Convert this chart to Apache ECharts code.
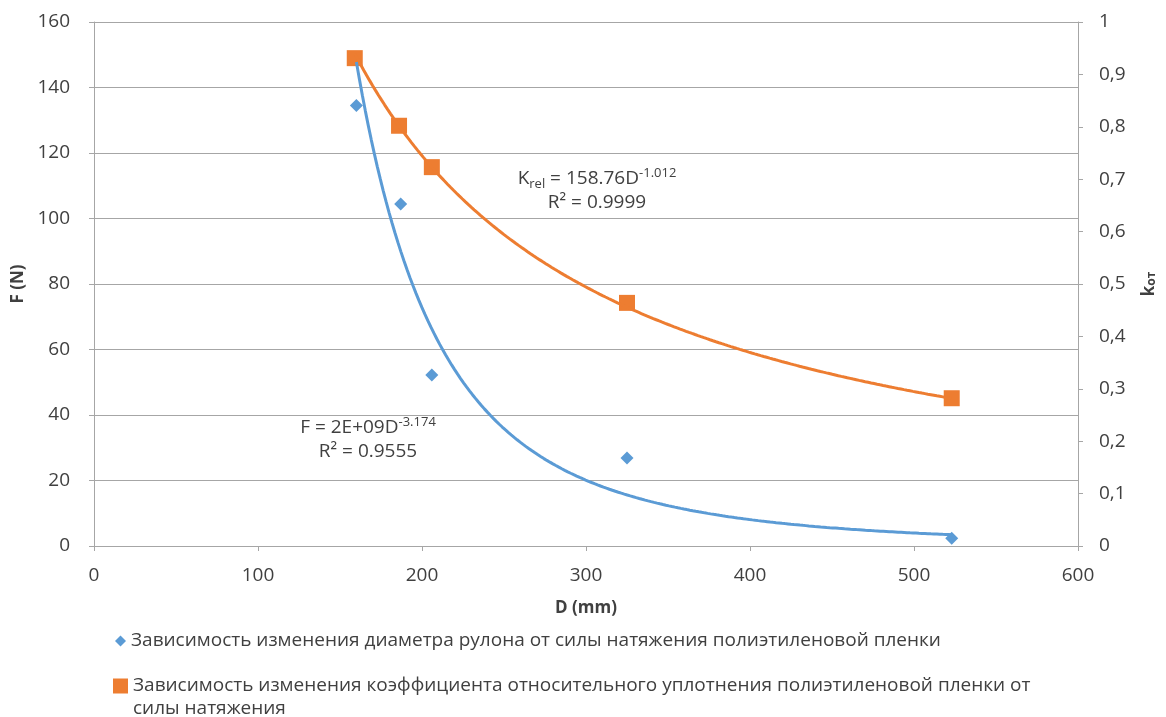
<!DOCTYPE html>
<html>
<head>
<meta charset="utf-8">
<script src="https://cdn.jsdelivr.net/npm/echarts@6/dist/echarts.min.js"></script>
<style>
  html, body { margin: 0; padding: 0; background: #ffffff; }
  #chart { width: 1166px; height: 717px; }
</style>
</head>
<body>
<div id="chart"></div>
<script>
// Roll diameter D (mm) measured at each tension setting
var diameterF = [160, 187, 206, 325, 523];
// Tension force F (N), left axis
var forceF = [134.5, 104.4, 52.2, 26.9, 2.4];

var diameterK = [159, 186, 206, 325, 523];
// Relative compaction coefficient k_ot, right axis
var kRel = [0.931, 0.802, 0.723, 0.464, 0.282];

// Power-law trendline parameters as printed in the equations
var forceExponent = -3.174;
var kCoef = 158.76;
var kExponent = -1.012;

var leftTicks = [0, 20, 40, 60, 80, 100, 120, 140, 160];
var rightTicks = [0, 0.1, 0.2, 0.3, 0.4, 0.5, 0.6, 0.7, 0.8, 0.9, 1];
var xTicks = [0, 100, 200, 300, 400, 500, 600];

var nameF = 'Зависимость изменения диаметра рулона от силы натяжения полиэтиленовой пленки';
var nameK = 'Зависимость изменения коэффициента относительного уплотнения полиэтиленовой пленки от силы натяжения';
var nameKWrap = 'силы натяжения';

var BLUE = '#5b9bd5';
var ORANGE = '#ed7d31';
var TEXT = '#404040';
var GRID = '#a6a6a6';
var FONT = 'Open Sans';
var FS = 19;

// Coefficient of the force trendline: least squares in log space with the printed exponent
function fitCoefficient(xs, ys, b) {
  var s = 0;
  for (var i = 0; i < xs.length; i++) s += Math.log(ys[i]) - b * Math.log(xs[i]);
  return Math.exp(s / xs.length);
}
var forceCoef = fitCoefficient(diameterF, forceF, forceExponent);

function powerCurve(a, b, x0, x1, n) {
  var pts = [];
  for (var i = 0; i <= n; i++) {
    var x = x0 + (x1 - x0) * i / n;
    pts.push([x, a * Math.pow(x, b)]);
  }
  return pts;
}

var curveF = powerCurve(forceCoef, forceExponent, diameterF[0], diameterF[diameterF.length - 1], 200);
var curveK = powerCurve(kCoef, kExponent, diameterK[0], diameterK[diameterK.length - 1], 200);

function zip(xs, ys) { return xs.map(function (x, i) { return [x, ys[i]]; }); }

var chart = echarts.init(document.getElementById('chart'), null, { renderer: 'canvas' });

var axisLabel = { color: TEXT, fontFamily: FONT, fontSize: FS };
var axisLine = { show: true, lineStyle: { color: GRID, width: 1 } };
var axisTick = { show: true, inside: false, length: 5, lineStyle: { color: GRID } };
var nameStyle = { color: TEXT, fontFamily: FONT, fontSize: 17, fontWeight: 'bold' };

var eqRich = {
  t: { fontFamily: FONT, fontSize: 19, fill: TEXT, lineHeight: 24 },
  sub: { fontFamily: FONT, fontSize: 13, fill: TEXT, verticalAlign: 'bottom', lineHeight: 24, padding: [9, 0, 0, 0] },
  sup: { fontFamily: FONT, fontSize: 13, fill: TEXT, verticalAlign: 'top', lineHeight: 24, padding: [0, 0, 9, 0] }
};

chart.setOption({
  animation: false,
  backgroundColor: '#ffffff',
  textStyle: { fontFamily: FONT },
  grid: { left: 94, right: 84, top: 22, bottom: 171, containLabel: false },
  xAxis: {
    type: 'value',
    min: xTicks[0], max: xTicks[xTicks.length - 1], interval: 100,
    name: 'D (mm)', nameLocation: 'middle', nameGap: 54,
    nameTextStyle: nameStyle,
    axisLine: axisLine, axisTick: axisTick,
    axisLabel: Object.assign({ margin: 20 }, axisLabel),
    splitLine: { show: false }
  },
  yAxis: [{
    type: 'value',
    min: leftTicks[0], max: leftTicks[leftTicks.length - 1], interval: 20,
    name: 'F (N)', nameLocation: 'middle', nameGap: 64, nameRotate: 90,
    nameTextStyle: nameStyle,
    axisLine: axisLine, axisTick: axisTick,
    axisLabel: Object.assign({ margin: 24 }, axisLabel),
    splitLine: { show: true, lineStyle: { color: GRID, width: 1 } }
  }, {
    type: 'value', position: 'right',
    min: rightTicks[0], max: rightTicks[rightTicks.length - 1], interval: 0.1,
    name: '{k|k}{s|от}', nameLocation: 'middle', nameGap: 62, nameRotate: 90,
    nameTextStyle: {
      color: TEXT, fontFamily: FONT, fontSize: 17, fontWeight: 'bold',
      rich: {
        k: { color: TEXT, fontFamily: FONT, fontSize: 17, fontWeight: 'bold' },
        s: { color: TEXT, fontFamily: FONT, fontSize: 12, fontWeight: 'bold', verticalAlign: 'bottom', padding: [6, 0, 0, 0] }
      }
    },
    axisLine: axisLine, axisTick: axisTick,
    axisLabel: Object.assign({
      margin: 21,
      formatter: function (v) { return String(Math.round(v * 10) / 10).replace('.', ','); }
    }, axisLabel),
    splitLine: { show: false }
  }],
  legend: [{
    left: 110, top: 624, orient: 'vertical',
    icon: 'diamond', itemWidth: 11, itemHeight: 11,
    data: [nameF],
    textStyle: { color: TEXT, fontFamily: FONT, fontSize: FS, lineHeight: 24 }
  }, {
    left: 108, top: 669, orient: 'vertical',
    icon: 'rect', itemWidth: 15, itemHeight: 15,
    data: [nameK],
    formatter: function (n) { return n.replace(' ' + nameKWrap, ''); },
    textStyle: { color: TEXT, fontFamily: FONT, fontSize: FS, lineHeight: 24 }
  }],
  graphic: [{
    // continuation line of the second legend entry
    type: 'text', x: 133, y: 709, z: 10,
    style: { text: nameKWrap, fill: TEXT, font: FS + 'px "' + FONT + '"', align: 'left', verticalAlign: 'middle' }
  }, {
    type: 'text', x: 597, y: 167, z: 10,
    style: {
      text: '{t|K}{sub|rel}{t| = 158.76D}{sup|-1.012}\n{t|R² = 0.9999}',
      align: 'center', verticalAlign: 'top', fill: TEXT, rich: eqRich
    }
  }, {
    type: 'text', x: 368, y: 416, z: 10,
    style: {
      text: '{t|F = 2E+09D}{sup|-3.174}\n{t|R² = 0.9555}',
      align: 'center', verticalAlign: 'top', fill: TEXT, rich: eqRich
    }
  }],
  series: [{
    name: nameK, type: 'scatter', yAxisIndex: 1,
    symbol: 'rect', symbolSize: 16, z: 2,
    itemStyle: { color: ORANGE, opacity: 1 },
    data: zip(diameterK, kRel)
  }, {
    name: 'trendK', type: 'line', yAxisIndex: 1, showSymbol: false, z: 3,
    lineStyle: { color: ORANGE, width: 3 }, silent: true,
    data: curveK
  }, {
    name: nameF, type: 'scatter', yAxisIndex: 0,
    symbol: 'diamond', symbolSize: 13, z: 4,
    itemStyle: { color: BLUE, opacity: 1 },
    data: zip(diameterF, forceF)
  }, {
    name: 'trendF', type: 'line', yAxisIndex: 0, showSymbol: false, z: 5,
    lineStyle: { color: BLUE, width: 3 }, silent: true,
    data: curveF
  }]
});
</script>
</body>
</html>
